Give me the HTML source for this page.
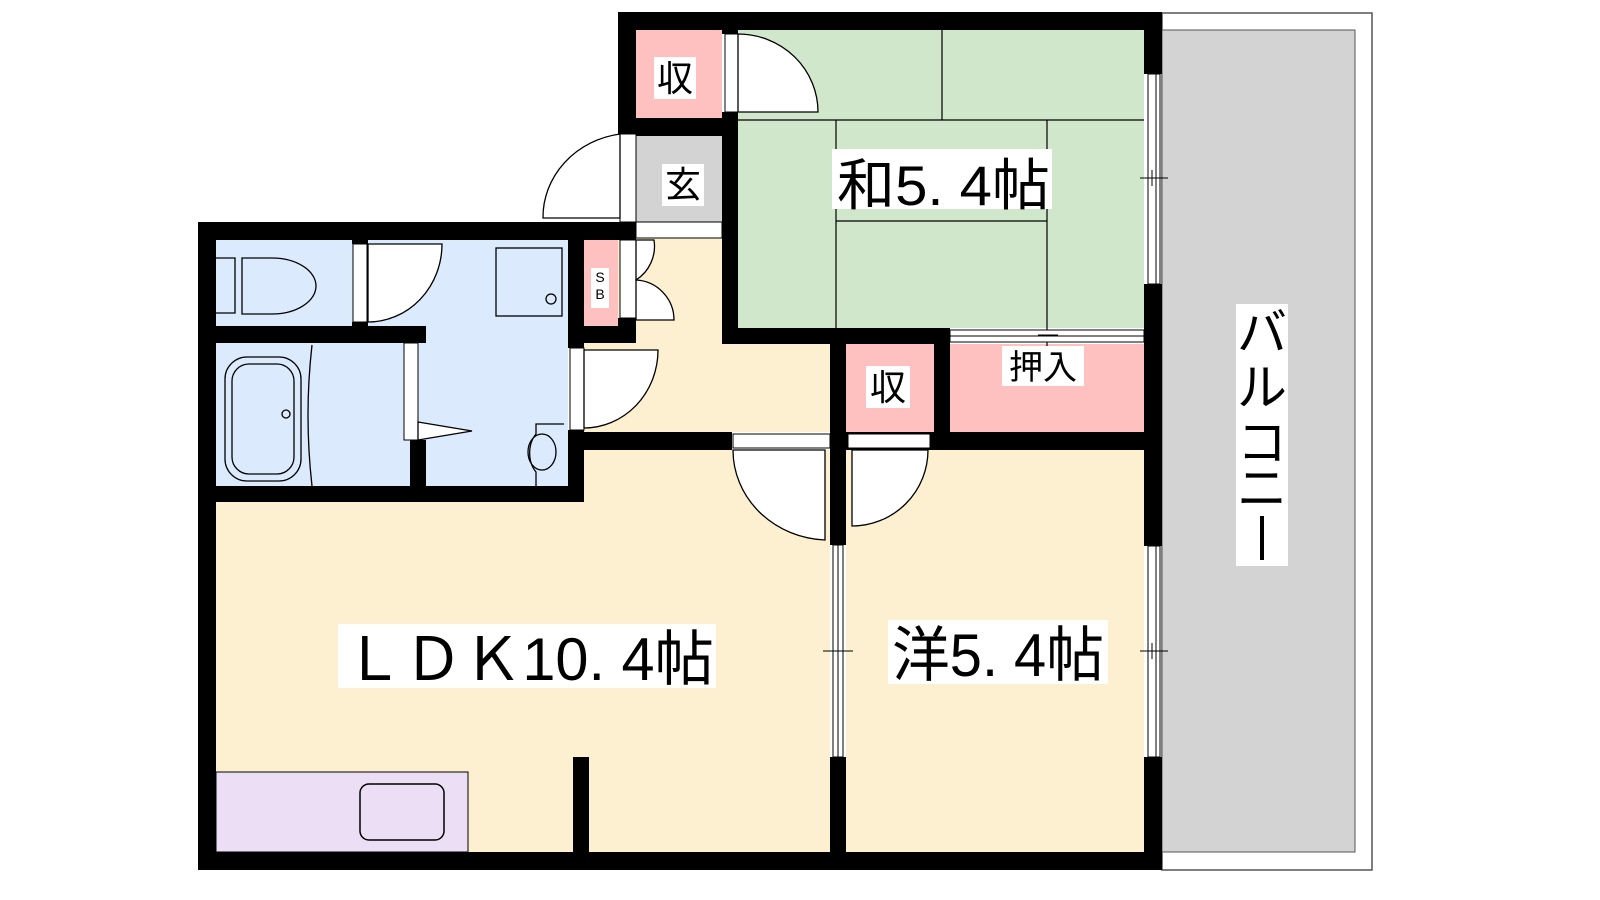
<!DOCTYPE html>
<html><head><meta charset="utf-8"><style>
html,body{margin:0;padding:0;background:#fff;width:1600px;height:900px;overflow:hidden}
svg{display:block}
text{font-family:"Liberation Sans","Noto Sans CJK JP",sans-serif;fill:#000}
</style></head><body>
<svg width="1600" height="900" viewBox="0 0 1600 900" xmlns="http://www.w3.org/2000/svg">
<!-- balcony -->
<rect x="1162" y="13" width="210" height="857" fill="#fff" stroke="#555" stroke-width="1.5"/>
<rect x="1162" y="30" width="193" height="822" fill="#d3d3d3" stroke="#555" stroke-width="1"/>
<!-- floors -->
<rect x="584" y="238" width="246" height="194" fill="#fdf0d0"/>
<rect x="216" y="450" width="614" height="402" fill="#fdf0d0"/>
<rect x="216" y="240" width="352" height="246" fill="#dbeafc"/>
<rect x="846" y="450" width="298" height="402" fill="#fdf0d0"/>
<rect x="738" y="30" width="406" height="298" fill="#d1e7cc"/>
<rect x="636" y="30" width="86" height="88" fill="#ffc0c0"/>
<rect x="636" y="136" width="86" height="86" fill="#d3d3d3"/>
<rect x="636" y="222" width="86" height="16" fill="#fff" stroke="#000" stroke-width="1"/>
<rect x="584" y="240" width="34" height="86" fill="#ffc0c0"/>
<rect x="846" y="344" width="88" height="88" fill="#ffc0c0"/>
<rect x="950" y="344" width="194" height="88" fill="#ffc0c0"/>
<rect x="216" y="772" width="252" height="80" fill="#ecdff5" stroke="#000" stroke-width="1"/>
<rect x="360" y="784" width="84" height="56" rx="9" fill="none" stroke="#000" stroke-width="1.5"/>
<!-- tatami lines -->
<g stroke="#000" stroke-width="1.2">
<line x1="738" y1="120" x2="1144" y2="120"/>
<line x1="942" y1="30" x2="942" y2="120"/>
<line x1="836" y1="120" x2="836" y2="328"/>
<line x1="1047" y1="120" x2="1047" y2="352"/>
<line x1="836" y1="221" x2="1047" y2="221"/>
</g>
<!-- walls -->
<g fill="#000">
<rect x="198" y="222" width="438" height="18"/>
<rect x="198" y="222" width="18" height="648"/>
<rect x="198" y="852" width="964" height="18"/>
<rect x="618" y="12" width="544" height="18"/>
<rect x="618" y="12" width="18" height="122"/>
<rect x="1144" y="12" width="18" height="62"/>
<rect x="1144" y="284" width="18" height="262"/>
<rect x="1144" y="757" width="18" height="113"/>
<rect x="636" y="118" width="86" height="18"/>
<rect x="722" y="30" width="16" height="4"/>
<rect x="722" y="112" width="16" height="231"/>
<rect x="722" y="328" width="228" height="16"/>
<rect x="830" y="344" width="16" height="90"/>
<rect x="934" y="344" width="16" height="100"/>
<rect x="830" y="432" width="314" height="18"/>
<rect x="830" y="432" width="16" height="113"/>
<rect x="830" y="757" width="16" height="113"/>
<rect x="568" y="432" width="164" height="18"/>
<rect x="573" y="757" width="16" height="95"/>
<rect x="216" y="326" width="210" height="17"/>
<rect x="410" y="440" width="16" height="50"/>
<rect x="198" y="486" width="386" height="16"/>
<rect x="568" y="240" width="16" height="108"/>
<rect x="568" y="430" width="16" height="60"/>
<rect x="568" y="326" width="68" height="17"/>
<rect x="618" y="222" width="18" height="18"/>
<rect x="618" y="318" width="18" height="10"/>
<rect x="352" y="240" width="16" height="4"/>
<rect x="352" y="322" width="16" height="4"/>
</g>
<!-- windows / door frames -->
<g fill="#fff" stroke="#000" stroke-width="1">
<rect x="1148" y="74" width="12" height="210"/>
<rect x="1148" y="546" width="12" height="211"/>
<rect x="833" y="545" width="10" height="212"/>
<rect x="950" y="330" width="194" height="12"/>
<rect x="725" y="34" width="13" height="78"/>
<rect x="620" y="134" width="16" height="88"/>
<rect x="620" y="240" width="16" height="78"/>
<rect x="353" y="244" width="14" height="78"/>
<rect x="404" y="343" width="14" height="97"/>
<rect x="570" y="348" width="14" height="82"/>
<rect x="733" y="434" width="97" height="14"/>
<rect x="848" y="434" width="82" height="14"/>
</g>
<g stroke="#000" stroke-width="1" fill="none">
<line x1="1156" y1="74" x2="1156" y2="284"/><line x1="1156" y1="546" x2="1156" y2="757"/>
<line x1="838" y1="545" x2="838" y2="757"/><line x1="950" y1="336" x2="1144" y2="336"/>
<line x1="1140" y1="178" x2="1168" y2="178"/><line x1="1152" y1="170" x2="1152" y2="186"/>
<line x1="1140" y1="651" x2="1168" y2="651"/><line x1="1152" y1="643" x2="1152" y2="659"/>
<line x1="823" y1="651" x2="853" y2="651"/>
<line x1="1038" y1="335" x2="1058" y2="335"/>
</g>
<!-- doors -->
<g stroke="#000" stroke-width="1.3" fill="#fff">
<path d="M738 34 A80 78 0 0 1 818 112 L738 112 Z"/>
<path d="M620 134 A90 84 0 0 0 543 218 L620 218 Z"/>
<path d="M368 244 L442 244 A74 78 0 0 1 368 322 Z"/>
<path d="M636 240 L654 240 A40 40 0 0 1 636 280 Z"/>
<path d="M636 280 A40 40 0 0 1 674 320 L636 320 Z"/>
<path d="M584 350 L658 350 A74 78 0 0 1 584 428 Z"/>
<path d="M733 450 A96 90 0 0 0 825 540 L825 450 Z"/>
<path d="M852 450 L928 450 A76 76 0 0 1 852 526 Z"/>
<path d="M418 422 L472 431 L418 440 Z"/>
</g>
<!-- fixtures -->
<g stroke="#000" stroke-width="1.3" fill="none">
<rect x="496" y="248" width="66" height="68"/>
<circle cx="551" cy="299" r="5"/>
<path d="M216 258 h19 v55 h-19 M242 258 h30 a44 28 0 0 1 0 56 h-30 Z"/>
<rect x="225" y="357" width="76" height="124" rx="22"/>
<rect x="232" y="364" width="62" height="110" rx="17"/>
<circle cx="286" cy="414" r="4"/>
<path d="M312 345 q-8 70 0 141"/>
<path d="M564 424 h-28 v10 a20 26 0 0 0 0 38 v14"/>
<ellipse cx="542" cy="452" rx="14" ry="18"/>
</g>
<!-- labels -->
<g>
<rect x="654" y="57" width="42" height="42" fill="#fff"/>
<text x="675" y="91" font-size="36" text-anchor="middle">収</text>
<rect x="662" y="164" width="42" height="42" fill="#fff"/>
<text x="683" y="197" font-size="36" text-anchor="middle">玄</text>
<rect x="591" y="268" width="18" height="40" fill="#fff"/>
<text x="600" y="282" font-size="14" text-anchor="middle">S</text>
<text x="600" y="299" font-size="14" text-anchor="middle">B</text>
<rect x="866" y="366" width="44" height="42" fill="#fff"/>
<text x="888" y="400" font-size="36" text-anchor="middle">収</text>
<rect x="1002" y="346" width="82" height="40" fill="#fff"/>
<text x="1043" y="379" font-size="34" text-anchor="middle">押入</text>
<rect x="832" y="149" width="220" height="60" fill="#fff"/>
<text x="837" y="205" font-size="56" textLength="213" lengthAdjust="spacingAndGlyphs">和5. 4帖</text>
<rect x="338" y="624" width="378" height="64" fill="#fff"/>
<text x="344" y="680" font-size="60" textLength="370" lengthAdjust="spacingAndGlyphs">ＬＤＫ10. 4帖</text>
<rect x="888" y="620" width="220" height="64" fill="#fff"/>
<text x="892" y="676" font-size="60" textLength="212" lengthAdjust="spacingAndGlyphs">洋5. 4帖</text>
<rect x="1236" y="304" width="52" height="262" fill="#fff"/>
<text font-size="50" text-anchor="middle"><tspan x="1262" y="350">バ</tspan><tspan x="1262" y="405">ル</tspan><tspan x="1262" y="460">コ</tspan><tspan x="1262" y="506">ニ</tspan></text>
</g>
<line x1="1262" y1="516" x2="1262" y2="560" stroke="#000" stroke-width="4"/>
</svg>
</body></html>
